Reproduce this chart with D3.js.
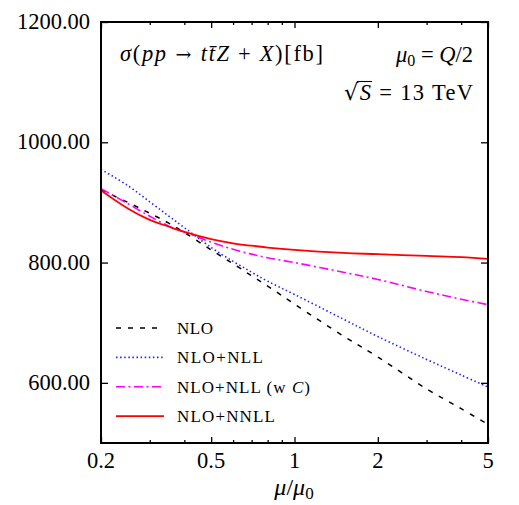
<!DOCTYPE html>
<html>
<head>
<meta charset="utf-8">
<script src="https://cdn.jsdelivr.net/npm/d3@7"></script>
</head>
<body style="margin:0;background:#fff">
<svg id="chart" width="519" height="505" font-family="Liberation Serif"></svg>
<script>
// ---- data ----
const mu = [0.2, 0.25, 0.3, 0.35, 0.4, 0.5, 0.6, 0.7, 0.8, 1, 1.5, 2, 3, 4, 5];
const nlo      = [921, 900, 882, 866, 850, 821, 798, 778, 761, 731, 678, 643, 590, 557, 531];
const nloNll   = [955, 928, 901, 878, 858, 825, 802, 784, 769, 747, 706, 677, 639, 613, 593];
const nloNllC  = [923, 898, 877, 861, 851, 834, 822, 814, 808, 800, 784, 772, 752, 739, 730];
const nloNnll  = [920, 890, 871, 860, 851, 839, 832, 828, 825, 821, 816, 814, 811, 809, 806];
const seriesNames = ["NLO", "NLO+NLL", "NLO+NLL (w C)", "NLO+NNLL"];
const xMajorTicks = [0.2, 0.5, 1, 2, 5];
const xMinorTicks = [0.3, 0.4, 0.6, 0.7, 0.8, 0.9, 3, 4];
const yTicks = [600, 800, 1000, 1200];

// ---- layout ----
const FONT = "Liberation Serif";
const L = 101, R = 488, T = 22, B = 443;
const svg = d3.select("#chart");
const x = d3.scaleLog().domain([0.2, 5]).range([L, R]);
const y = d3.scaleLinear().domain([500, 1200]).range([B, T]);

const styles = [
  { color: "#000000", dash: "5,7", width: 1.5 },
  { color: "#2222ff", dash: "1.5,2.6", width: 1.6 },
  { color: "#ff00ff", dash: "9,3.5,2,3.5", width: 1.6 },
  { color: "#ff0000", dash: null, width: 1.8 }
];
const legendWidths = [36, 86, 133, 98];
const allSeries = [nlo, nloNll, nloNllC, nloNnll];

function txt(parent) {
  return parent.append("text").attr("font-family", FONT).attr("fill", "#000");
}

// clip
svg.append("clipPath").attr("id", "clip").append("rect")
  .attr("x", L).attr("y", T).attr("width", R - L).attr("height", B - T);

const line = d3.line().x(d => x(d[0])).y(d => y(d[1])).curve(d3.curveCatmullRom.alpha(0.5));
const g = svg.append("g").attr("clip-path", "url(#clip)");
allSeries.forEach((vals, i) => {
  const s = styles[i];
  g.append("path")
    .datum(mu.map((m, j) => [m, vals[j]]))
    .attr("d", line)
    .attr("fill", "none")
    .attr("stroke", s.color)
    .attr("stroke-width", s.width)
    .attr("stroke-dasharray", s.dash);
});

// axes (ticks inward on all sides)
function tickAxis(axisFn, scale, values, size) {
  return axisFn(scale).tickValues(values).tickSize(size).tickFormat("");
}
const axG = svg.append("g");
axG.append("g").attr("transform", `translate(0,${B})`)
  .call(tickAxis(d3.axisTop, x, xMajorTicks, 6));
axG.append("g").attr("transform", `translate(0,${B})`)
  .call(tickAxis(d3.axisTop, x, xMinorTicks, 3));
axG.append("g").attr("transform", `translate(0,${T})`)
  .call(tickAxis(d3.axisBottom, x, xMajorTicks, 6));
axG.append("g").attr("transform", `translate(0,${T})`)
  .call(tickAxis(d3.axisBottom, x, xMinorTicks, 3));
axG.append("g").attr("transform", `translate(${L},0)`)
  .call(tickAxis(d3.axisRight, y, yTicks, 7));
axG.append("g").attr("transform", `translate(${R},0)`)
  .call(tickAxis(d3.axisLeft, y, yTicks, 7));
axG.selectAll(".domain").remove();
axG.selectAll(".tick line").attr("stroke", "#000").attr("stroke-width", 1.3);

// frame
svg.append("rect").attr("x", L).attr("y", T).attr("width", R - L).attr("height", B - T)
  .attr("fill", "none").attr("stroke", "#000").attr("stroke-width", 2);

// tick labels
const xlab = svg.append("g");
xMajorTicks.forEach(d => {
  txt(xlab).attr("x", x(d)).attr("y", 468)
    .attr("text-anchor", "middle").attr("font-size", 22.5).text(d);
});
const ylab = svg.append("g");
yTicks.forEach(d => {
  txt(ylab).attr("x", 90).attr("y", y(d) + 7)
    .attr("text-anchor", "end").attr("font-size", 22.5).text(d.toFixed(2));
});

// x axis label  μ/μ0
const xl = txt(svg).attr("x", 294).attr("y", 495)
  .attr("text-anchor", "middle").attr("font-size", 24);
xl.append("tspan").attr("font-style", "italic").text("μ");
xl.append("tspan").text("/");
xl.append("tspan").attr("font-style", "italic").text("μ");
xl.append("tspan").attr("font-size", 17).attr("dy", 4).text("0");

// title  σ(pp → tt̄Z + X)[fb]
const t1 = txt(svg).attr("x", 120).attr("y", 61).attr("font-size", 22.5)
  .attr("textLength", 203).attr("lengthAdjust", "spacing");
t1.append("tspan").attr("font-style", "italic").text("σ");
t1.append("tspan").text("(");
t1.append("tspan").attr("font-style", "italic").text("pp");
t1.append("tspan").attr("font-family", "DejaVu Serif").attr("font-size", 19).text(" → ");
t1.append("tspan").attr("font-style", "italic").text("tt\u0304Z");
t1.append("tspan").text(" + ");
t1.append("tspan").attr("font-style", "italic").text("X");
t1.append("tspan").text(")[fb]");

// μ0 = Q/2
const t2 = txt(svg).attr("x", 473).attr("y", 62).attr("font-size", 22.5)
  .attr("text-anchor", "end");
t2.append("tspan").attr("font-style", "italic").text("μ");
t2.append("tspan").attr("font-size", 16).attr("dy", 4).text("0");
t2.append("tspan").attr("dy", -4).text(" = ");
t2.append("tspan").attr("font-style", "italic").text("Q");
t2.append("tspan").text("/2");

// √S = 13 TeV
const t3 = txt(svg).attr("x", 473).attr("y", 100).attr("font-size", 22.5)
  .attr("text-anchor", "end").attr("textLength", 129).attr("lengthAdjust", "spacing");
t3.append("tspan").attr("font-family", "DejaVu Serif").text("√");
t3.append("tspan").attr("font-style", "italic").text("S");
t3.append("tspan").text(" = 13 TeV");
const n3 = t3.node();
const sEnd = n3.getEndPositionOfChar(1);
const rootEnd = n3.getEndPositionOfChar(0);
svg.append("line")
  .attr("x1", rootEnd.x - 1.5).attr("x2", sEnd.x + 1)
  .attr("y1", 100 - 18.5).attr("y2", 100 - 18.5)
  .attr("stroke", "#000").attr("stroke-width", 1.1);

// legend
const legY0 = 328, legDy = 29.4;
const leg = svg.append("g");
seriesNames.forEach((name, i) => {
  const s = styles[i];
  const yy = legY0 + i * legDy;
  leg.append("line").attr("x1", 116).attr("x2", 164).attr("y1", yy).attr("y2", yy)
    .attr("stroke", s.color).attr("stroke-width", s.width)
    .attr("stroke-dasharray", s.dash);
  const tx = txt(leg).attr("x", 177).attr("y", yy + 6).attr("font-size", 17)
    .attr("textLength", legendWidths[i]).attr("lengthAdjust", "spacing");
  if (name.endsWith("(w C)")) {
    tx.append("tspan").text("NLO+NLL (w ");
    tx.append("tspan").attr("font-style", "italic").text("C");
    tx.append("tspan").text(")");
  } else {
    tx.text(name);
  }
});
</script>
</body>
</html>
